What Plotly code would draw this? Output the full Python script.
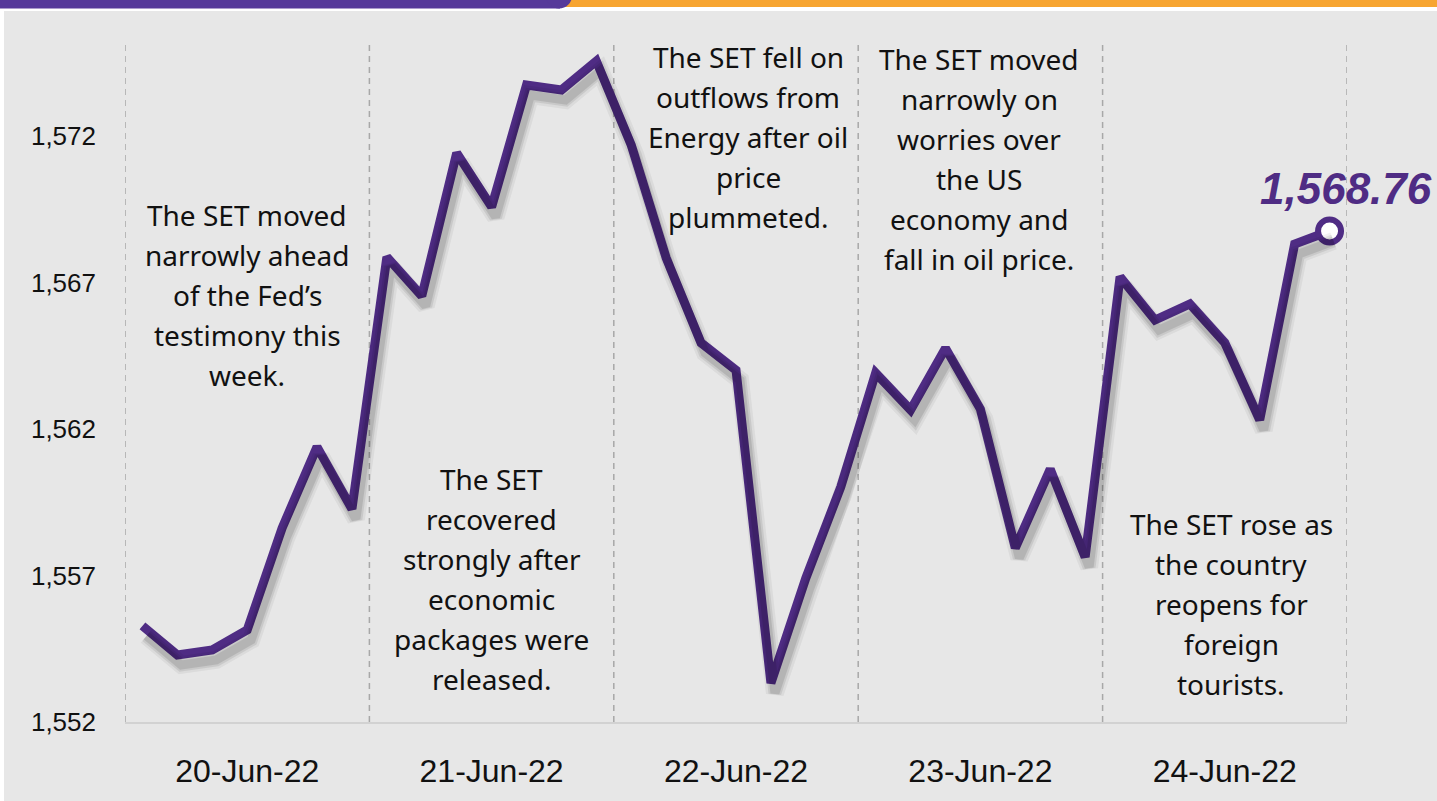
import plotly.graph_objects as go

# ---- data ----
day_labels = ["20-Jun-22", "21-Jun-22", "22-Jun-22", "23-Jun-22", "24-Jun-22"]
points_per_day = 7
set_index = [
    1555.28, 1554.29, 1554.46, 1555.14, 1558.62, 1561.39, 1559.27,   # 20-Jun
    1567.87, 1566.54, 1571.42, 1569.58, 1573.74, 1573.57, 1574.56,   # 21-Jun
    1571.69, 1567.84, 1564.94, 1564.01, 1553.33, 1556.91, 1560.02,   # 22-Jun
    1563.91, 1562.65, 1564.76, 1562.68, 1557.94, 1560.63, 1557.63,   # 23-Jun
    1567.19, 1565.72, 1566.27, 1564.94, 1562.31, 1568.31, 1568.76,   # 24-Jun
]
last_label = "1,568.76"
y_ticks = [1552, 1557, 1562, 1567, 1572]
y_tick_text = ["1,552", "1,557", "1,562", "1,567", "1,572"]
notes = [
    ["The SET moved", "narrowly ahead", "of the Fed’s", "testimony this", "week."],
    ["The SET", "recovered", "strongly after", "economic", "packages were", "released."],
    ["The SET fell on", "outflows from", "Energy after oil", "price", "plummeted."],
    ["The SET moved", "narrowly on", "worries over", "the US", "economy and", "fall in oil price."],
    ["The SET rose as", "the country", "reopens for", "foreign", "tourists."],
]
note_x = [3, 10, 17.35, 23.97, 31.19]
note_y = [1566.57, 1556.88, 1571.97, 1571.2, 1556.03]

# ---- layout geometry ----
W, H = 1437, 801
L, R, T, B = 125, 90, 45, 79
pw, ph = W - L - R, H - T - B
n = len(set_index)
x = list(range(n))
xr = [-0.5, n - 0.5]
yr = [1552, 1552 + ph / 29.3]

PURPLE = "#4F2C84"
BG = "#E7E7E7"

fig = go.Figure()

# shadow (same data drawn on slightly offset overlay axes)
dx = 4 / (pw / n)
dy = 10 / 29.3
for w, op in [(18, 0.05), (13, 0.08), (9, 0.10)]:
    fig.add_trace(go.Scatter(x=x, y=set_index, mode="lines", xaxis="x2", yaxis="y2",
                             line=dict(color=f"rgba(0,0,0,{op})", width=w),
                             hoverinfo="skip", showlegend=False))

fig.add_trace(go.Scatter(x=x, y=set_index, mode="lines",
                         line=dict(color=PURPLE, width=9),
                         showlegend=False))
fig.add_trace(go.Scatter(x=[x[-1]], y=[set_index[-1]], mode="markers",
                         marker=dict(size=23, color="white",
                                     line=dict(color=PURPLE, width=6)),
                         showlegend=False))

shapes = []
# vertical dashed separators
for k in range(len(day_labels) + 1):
    xv = -0.5 + k * points_per_day
    shapes.append(dict(type="line", xref="x", yref="paper", x0=xv, x1=xv, y0=0, y1=1,
                       line=dict(color="#A8A8A8", width=1.5, dash="6px,5px"), layer="below"))

def px_x(p):
    return (p - L) / pw

def px_y(p):
    return (H - B - p) / ph

# white border + header bars
shapes += [
    dict(type="rect", xref="paper", yref="paper", x0=px_x(0), x1=px_x(4), y0=px_y(H), y1=px_y(8),
         fillcolor="white", line_width=0, layer="below"),
    dict(type="rect", xref="paper", yref="paper", x0=px_x(0), x1=px_x(W), y0=px_y(11), y1=px_y(7),
         fillcolor="white", line_width=0, layer="below"),
    dict(type="rect", xref="paper", yref="paper", x0=px_x(560), x1=px_x(W), y0=px_y(7), y1=px_y(0),
         fillcolor="#F7A531", line_width=0, layer="below"),
    dict(type="rect", xref="paper", yref="paper", x0=px_x(0), x1=px_x(560), y0=px_y(8.5), y1=px_y(0),
         fillcolor="#56399A", line_width=0, layer="below"),
    dict(type="circle", xref="paper", yref="paper", x0=px_x(546), x1=px_x(572), y0=px_y(8.5), y1=px_y(-17),
         fillcolor="#56399A", line_width=0, layer="below"),
]

annotations = []
LINE_H = 40
for lines, ax_, ay_ in zip(notes, note_x, note_y):
    k = len(lines)
    for i, t in enumerate(lines):
        annotations.append(dict(x=ax_, y=ay_, xref="x", yref="y", text=t, showarrow=False,
                                yshift=((k - 1) / 2 - i) * LINE_H,
                                font=dict(family="Noto Sans", size=28, color="#111111"),
                                align="center", xanchor="center", yanchor="middle"))
annotations.append(dict(x=x[-1], y=set_index[-1], xref="x", yref="y", text=f"<b><i>{last_label}</i></b>",
                        showarrow=False, xshift=16, yshift=42,
                        font=dict(family="Liberation Sans", size=44, color=PURPLE),
                        xanchor="center", yanchor="middle"))

fig.update_layout(
    width=W, height=H,
    margin=dict(l=L, r=R, t=T, b=B),
    paper_bgcolor=BG, plot_bgcolor=BG,
    shapes=shapes, annotations=annotations,
    xaxis=dict(range=xr, tickmode="array",
               tickvals=[3 + points_per_day * i for i in range(len(day_labels))],
               ticktext=day_labels, showgrid=False, zeroline=False,
               showline=True, linecolor="#D2D2D2", linewidth=2, ticks="",
               ticklabelstandoff=20,
               tickfont=dict(family="Liberation Sans", size=32, color="#111111")),
    yaxis=dict(range=yr, tickmode="array", tickvals=y_ticks, ticktext=y_tick_text,
               showgrid=False, zeroline=False, showline=False, ticks="",
               ticklabelstandoff=28,
               tickfont=dict(family="Liberation Sans", size=26, color="#111111")),
    xaxis2=dict(range=[xr[0] - dx, xr[1] - dx], overlaying="x", visible=False),
    yaxis2=dict(range=[yr[0] + dy, yr[1] + dy], overlaying="y", visible=False),
)

fig.write_html("out.html", config={"displayModeBar": False},
               post_script="document.body.style.margin='0';document.body.style.overflow='hidden';")
